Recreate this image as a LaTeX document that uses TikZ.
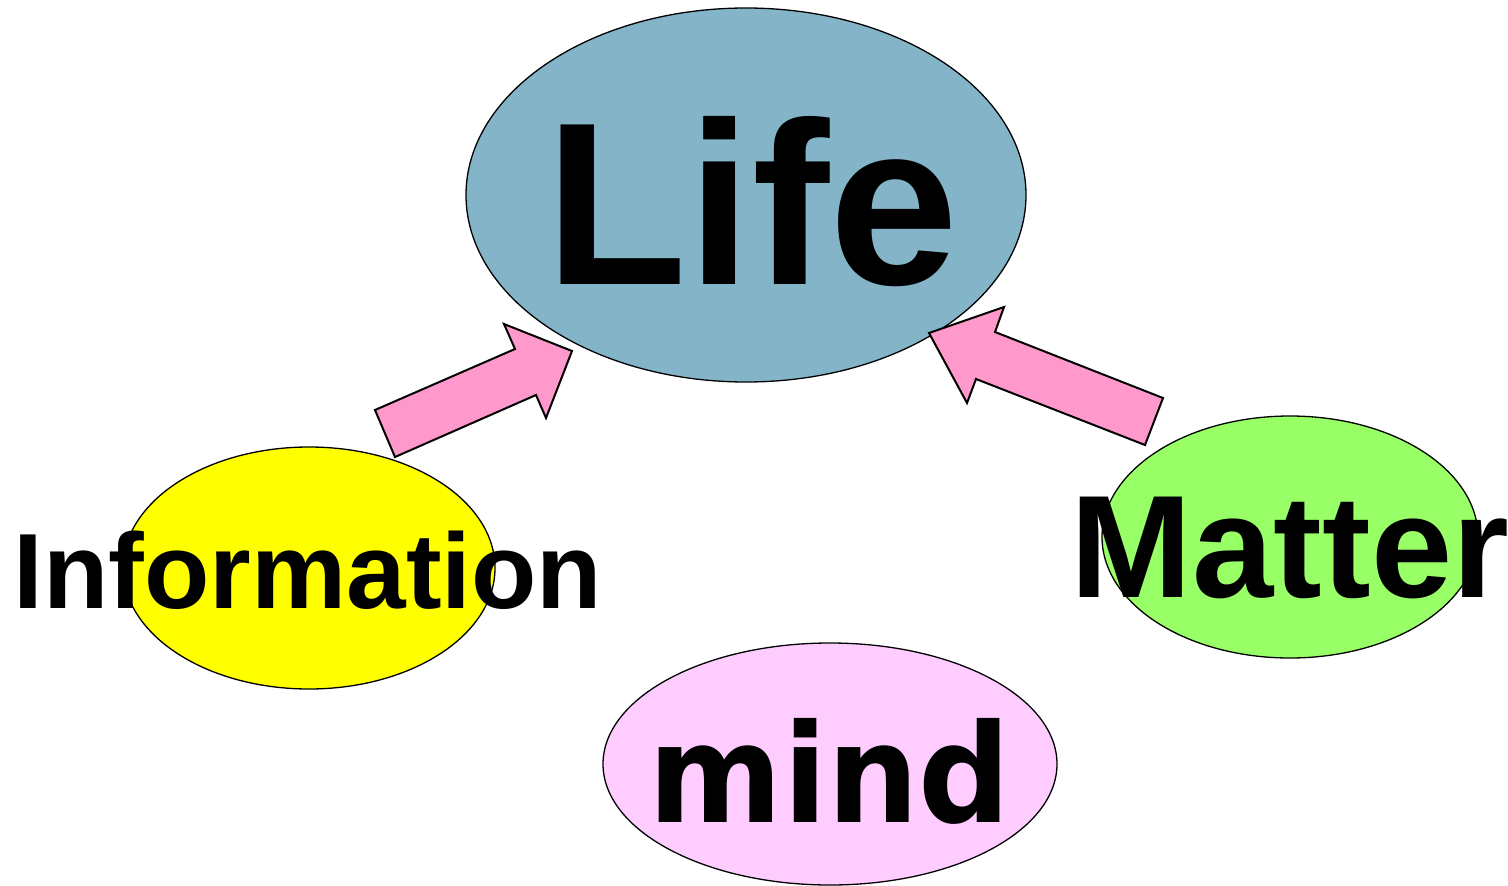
\documentclass[tikz,border=0pt]{standalone}
\usepackage{fontspec}
\setmainfont{Liberation Sans}
\newfontfamily\mindfont{DejaVu Sans}
\usetikzlibrary{shapes.geometric}
\definecolor{lifeblue}{HTML}{84B4C8}
\definecolor{infoyellow}{HTML}{FFFF00}
\definecolor{mattergreen}{HTML}{99FF66}
\definecolor{mindpink}{HTML}{FFCCFF}
\definecolor{arrowpink}{HTML}{FF99CC}
\tikzset{
  blob/.style={ellipse, draw=black, line width=1.3pt, inner sep=0pt},
  blockarrow/.style={fill=arrowpink, draw=black, line width=2pt, line join=miter},
  word/.style={inner sep=0pt, anchor=base, font=\bfseries},
}
\begin{document}
\begin{tikzpicture}[x=1pt,y=-1pt]
\useasboundingbox (0,0) rectangle (1508,886);
% ellipses
\node[blob, fill=lifeblue, minimum width=560pt, minimum height=374pt] (life) at (746,195) {};
\node[blob, fill=infoyellow, minimum width=372pt, minimum height=242pt] (info) at (309,568) {};
\node[blob, fill=mattergreen, minimum width=376pt, minimum height=242pt] (matter) at (1290,537) {};
\node[blob, fill=mindpink, minimum width=454pt, minimum height=242pt] (mind) at (830,764) {};
% block arrows
\draw[blockarrow] (395,457) -- (375,410) -- (515,349) -- (504,324) -- (572,351)
  -- (546,418) -- (536,395) -- cycle;
\draw[blockarrow] (1145,445) -- (1163,398) -- (995,332) -- (1004,307) -- (929,333)
  -- (967,403) -- (976,379) -- cycle;
% texts
\node[word, font=\bfseries\fontsize{232}{232}\selectfont] (lifetext) at (752,284) {Life};
\node[word, font=\bfseries\fontsize{107}{107}\selectfont] (infotext) at (308,608) {Information};
\node[word, font=\bfseries\fontsize{146}{146}\selectfont] (mattertext) at (1290,597) {Matter};
\node[word, font=\mindfont\bfseries\fontsize{137}{137}\selectfont] (mindtext) at (830,822) {\scalebox{0.94}[1]{mind}};
\end{tikzpicture}
\end{document}
